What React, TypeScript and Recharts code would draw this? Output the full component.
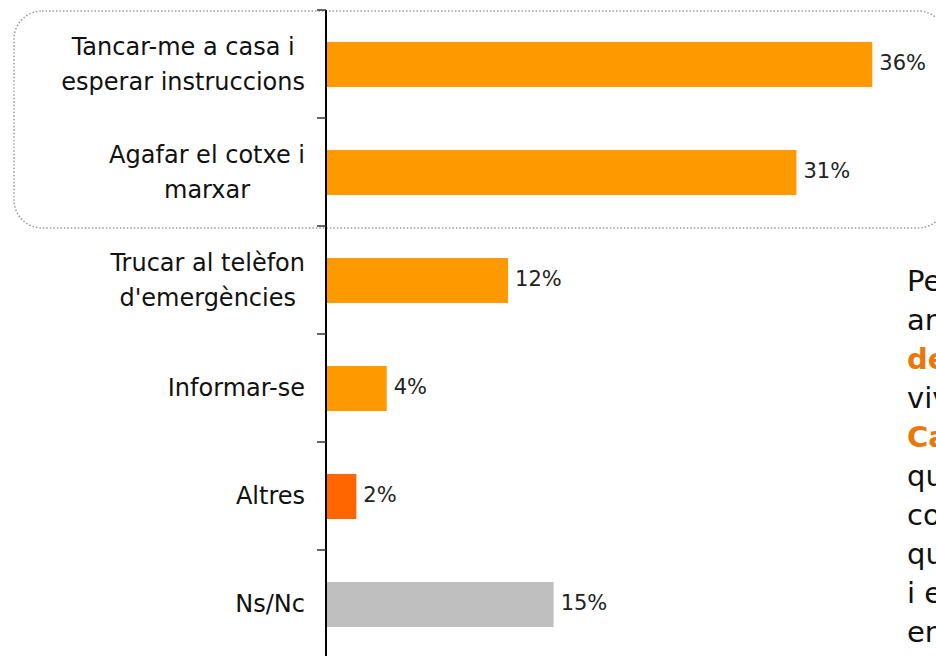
import React from 'react';
import { BarChart, Bar, XAxis, YAxis, Cell, LabelList } from 'recharts';

// categories and values
const categories = [
  'Tancar-me a casa i\nesperar instruccions',
  'Agafar el cotxe i\nmarxar',
  'Trucar al telèfon\nd\'emergències',
  'Informar-se',
  'Altres',
  'Ns/Nc',
];
const values = [36, 31, 12, 4, 2, 15];

const barColors = ['#FF9900', '#FF9900', '#FF9900', '#FF9900', '#FF6600', '#BFBFBF'];

// text on the right side, clipped by the page edge
const sideLines = [
  'Pel que fa a les',
  'arran d\'un accident',
  'de risc químic, els que',
  'vivim al',
  'Camp de Tarragona',
  'que hem rebut',
  'coneixements sobre',
  'què cal fer',
  'i esperar',
  'en cas d\'alarma',
  'fer el confinament',
];
const sideHighlight = [2, 4];

const data = categories.map((name, i) => ({ name, value: values[i] }));

const FONT = '"DejaVu Sans", sans-serif';
const W = 936;
const H = 660;
const TOP = 10;
const BOTTOM = 2;
const YW = 326;
const BAND = (H - TOP - BOTTOM) / categories.length;

let ctx: CanvasRenderingContext2D | null = null;
function measure(s: string, size: number) {
  if (!ctx) ctx = document.createElement('canvas').getContext('2d');
  if (!ctx) return s.length * size * 0.6;
  ctx.font = `${size}px ${FONT}`;
  return ctx.measureText(s).width;
}

const LABEL_SIZE = 24;
const LINE_H = 35;

function CategoryTick(props: any) {
  const { y, payload } = props;
  const lines = String(payload.value).split('\n');
  const widths = lines.map((l) => measure(l, LABEL_SIZE));
  const maxW = Math.max(...widths);
  const right = YW - 21;
  const cx = right - maxW / 2;
  const y0 = y - ((lines.length - 1) * LINE_H) / 2;
  return (
    <g>
      <line x1={YW - 9} x2={YW} y1={y - BAND / 2} y2={y - BAND / 2} stroke="#333" strokeWidth={1.5} />
      {lines.map((l, i) => (
        <text
          key={i}
          x={cx}
          y={y0 + i * LINE_H}
          textAnchor="middle"
          dominantBaseline="central"
          fontFamily={FONT}
          fontSize={LABEL_SIZE}
          fill="#111"
        >
          {l}
        </text>
      ))}
    </g>
  );
}

export default function App() {
  return (
    <div style={{ position: 'absolute', left: 0, top: 0, width: W, height: 656, overflow: 'hidden', background: '#fff' }}>
      <svg width={W} height={656} style={{ position: 'absolute', left: 0, top: 0 }}>
        <rect
          x={14}
          y={11}
          width={932}
          height={217}
          rx={28}
          ry={28}
          fill="none"
          stroke="#9a9a9a"
          strokeWidth={1.5}
          strokeDasharray="1.5 2"
        />
        {sideLines.map((l, i) => {
          const hl = sideHighlight.includes(i);
          return (
            <text
              key={i}
              x={907}
              y={291 + i * 39}
              fontFamily={FONT}
              fontSize={29}
              fontWeight={hl ? 'bold' : 'normal'}
              fill={hl ? '#E8780A' : '#111'}
            >
              {l}
            </text>
          );
        })}
      </svg>
      <div style={{ position: 'absolute', left: 0, top: 0 }}>
        <BarChart
          width={W}
          height={H}
          data={data}
          layout="vertical"
          margin={{ top: TOP, right: 3, bottom: BOTTOM, left: 0 }}
          barCategoryGap={0}
        >
          <XAxis type="number" domain={[0, 40]} hide />
          <YAxis
            type="category"
            dataKey="name"
            width={YW}
            axisLine={{ stroke: '#000', strokeWidth: 2 }}
            tickLine={false}
            tick={<CategoryTick />}
            interval={0}
          />
          <Bar dataKey="value" barSize={45} isAnimationActive={false}>
            {data.map((d, i) => (
              <Cell key={d.name} fill={barColors[i]} />
            ))}
            <LabelList
              dataKey="value"
              position="right"
              offset={7}
              formatter={(v: any) => `${v}%`}
              fill="#222"
              fontSize={21}
              fontFamily={FONT}
              dy={-2}
            />
          </Bar>
        </BarChart>
      </div>
    </div>
  );
}
